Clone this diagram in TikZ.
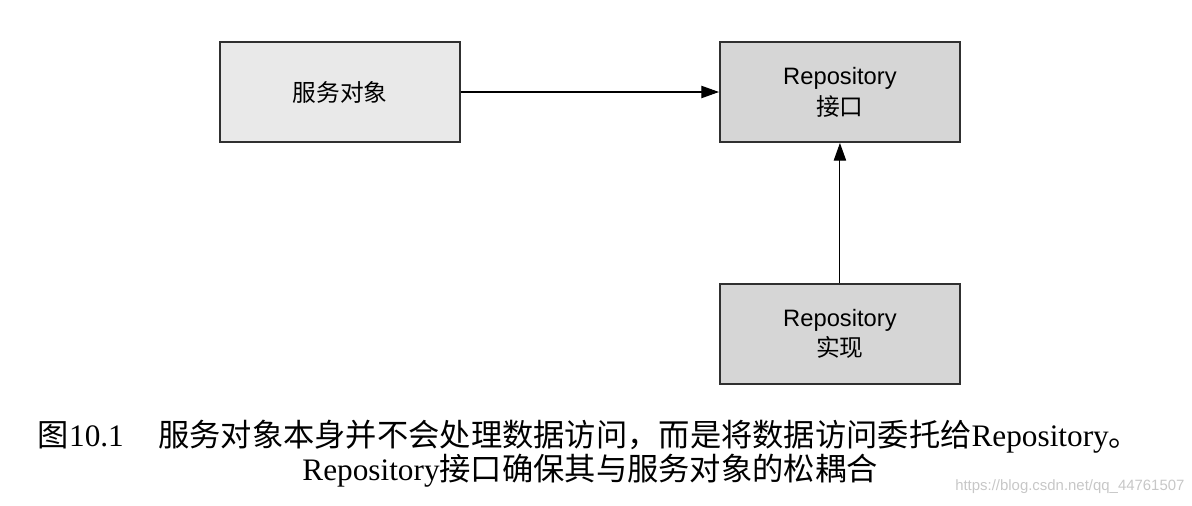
\documentclass[tikz,border=0pt]{standalone}
\usepackage{fontspec}
\setmainfont{Liberation Serif}
\setsansfont{Liberation Sans}
\newfontfamily\cjk{Noto Sans CJK SC}
\usepackage{tikz}
\usetikzlibrary{arrows.meta,positioning}

\definecolor{lightbox}{HTML}{E9E9E9}
\definecolor{darkbox}{HTML}{D6D6D6}
\definecolor{boxline}{HTML}{303030}

\tikzset{
  block/.style={draw=boxline,line width=1.1pt,minimum width=4.8cm,minimum height=2cm,
    align=center,font=\sffamily\fontsize{13.5}{17.5}\selectfont},
  caption/.style={font=\fontsize{17.8}{20}\selectfont,inner sep=0pt}
}

\begin{document}
\begin{tikzpicture}[->,>={Triangle[length=10pt,width=7pt]},line width=0.6pt,
                    node distance=5.16cm]
  \useasboundingbox (0,0) rectangle (23.84,-10.1);

  \node[block,fill=lightbox] (svc) at (6.8,-1.84) {{\cjk 服务对象}};
  \node[block,fill=darkbox] (repo) [right=of svc] {Repository\\{\cjk 接口}};
  \node[block,fill=darkbox] (impl) [below=2.8cm of repo] {Repository\\{\cjk 实现}};

  \path (svc)  edge (repo)
        (impl) edge (repo);

  % caption under the figure
  \node[caption] (cap1) at (11.78,-8.74)
    {{\cjk 图}10.1\hspace{1.1em}{\cjk 服务对象本身并不会处理数据访问，而是将数据访问委托给}Repository{\cjk 。}};
  \node[caption] (cap2) at (11.8,-9.42)
    {Repository{\cjk 接口确保其与服务对象的松耦合}};
  \node[anchor=east,inner sep=0pt,text=black!22,font=\sffamily\fontsize{8.5}{10}\selectfont]
    (mark) at (23.7,-9.74) {https://blog.csdn.net/qq\_44761507};
\end{tikzpicture}
\end{document}
